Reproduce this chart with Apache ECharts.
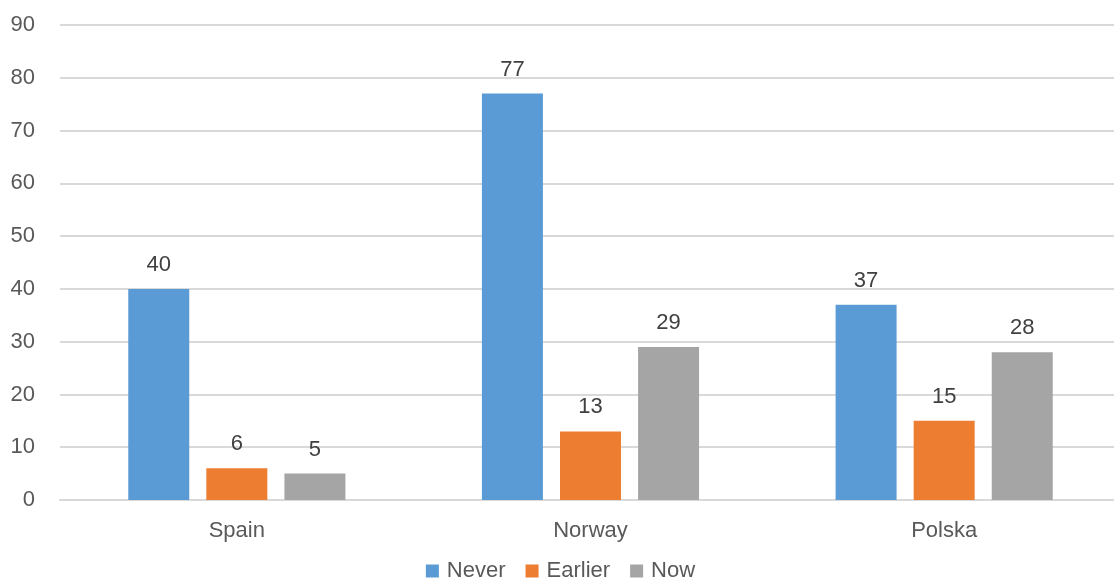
<!DOCTYPE html>
<html><head><meta charset="utf-8">
<script src="https://cdn.jsdelivr.net/npm/echarts@6/dist/echarts.min.js"></script>
<style>html,body{margin:0;padding:0;background:#fff;overflow:hidden;width:1114px;height:581px}#c{width:1121px;height:581px}</style>
</head><body><div id="c"></div>
<script>
const categories = ["Spain", "Norway", "Polska"];
const never = [40, 77, 37];
const earlier = [6, 13, 15];
const now = [5, 29, 28];
const yTicks = [0, 10, 20, 30, 40, 50, 60, 70, 80, 90];

const FONT = '"Liberation Sans", Arial, sans-serif';
const chart = echarts.init(document.getElementById('c'));
function ser(name, data, color) {
  return {
    name, type: 'bar', data, barWidth: 61, barGap: '28%',
    itemStyle: { color },
    label: { show: true, position: 'top', distance: 13, color: '#404040', fontSize: 22, fontFamily: FONT }
  };
}
chart.setOption({
  animation: false,
  textStyle: { fontFamily: FONT },
  grid: { left: 60, top: 25, width: 1061, height: 475, containLabel: false },
  legend: {
    bottom: -6, left: 'center', itemWidth: 13, itemHeight: 13, itemGap: 20,
    icon: 'rect',
    textStyle: { fontSize: 22, color: '#595959', fontFamily: FONT, padding: [0, 0, 0, 3] },
    data: ['Never', 'Earlier', 'Now']
  },
  xAxis: {
    type: 'category', data: categories,
    axisLine: { lineStyle: { color: '#d9d9d9', width: 2 } },
    axisTick: { show: false },
    axisLabel: { fontSize: 22, color: '#595959', margin: 20, fontFamily: FONT }
  },
  yAxis: {
    type: 'value', min: yTicks[0], max: yTicks[yTicks.length - 1], interval: 10,
    axisLine: { show: false }, axisTick: { show: false },
    splitLine: { lineStyle: { color: '#d9d9d9', width: 2 } },
    axisLabel: { fontSize: 22, color: '#595959', margin: 25, fontFamily: FONT }
  },
  series: [
    ser('Never', never, '#5B9BD5'),
    ser('Earlier', earlier, '#ED7D31'),
    ser('Now', now, '#A5A5A5')
  ]
});
</script></body></html>
